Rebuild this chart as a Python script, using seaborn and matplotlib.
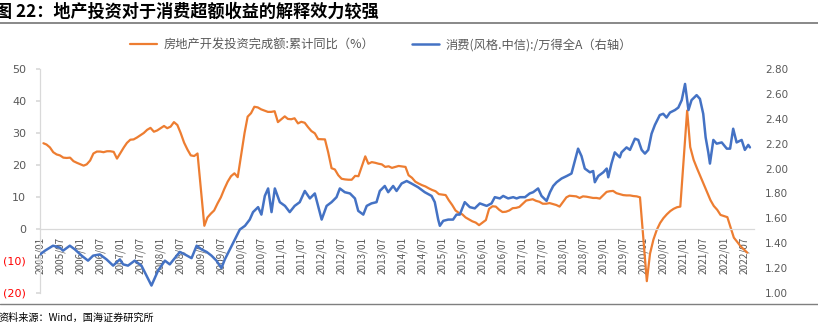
import matplotlib
matplotlib.use("Agg")
import matplotlib.pyplot as plt
from matplotlib.lines import Line2D
import seaborn as sns
import pandas as pd

sns.set_theme(style="white")
plt.rcParams['font.family'] = ['Noto Sans CJK SC', 'DejaVu Sans']
plt.rcParams['axes.unicode_minus'] = False

# ---------------- text ----------------
title = "图 22：地产投资对于消费超额收益的解释效力较强"
source = "资料来源：Wind，国海证券研究所"
label_orange = "房地产开发投资完成额:累计同比（%）"
label_blue = "消费(风格.中信):/万得全A（右轴）"

# ---------------- data ----------------
# Real-estate investment, cumulative YoY (%), Feb..Dec each year (Jan not published)
orange_years = list(range(2005, 2023))
orange_2005 = [26.8, 26.4, 25.5, 24.0, 23.3, 23.0, 22.3, 22.2, 22.3, 21.2, 20.7]
orange_2006 = [19.8, 20.2, 21.4, 23.6, 24.2, 24.2, 24.0, 24.3, 24.3, 24.1, 22.0]
orange_2007 = [25.5, 26.9, 27.9, 28.0, 28.6, 29.3, 30.0, 31.0, 31.6, 30.4, 30.8]
orange_2008 = [32.2, 31.5, 32.0, 33.4, 32.5, 30.0, 27.0, 24.8, 23.0, 22.8, 23.6]
orange_2009 = [1.0, 3.6, 4.8, 5.8, 8.0, 9.9, 12.5, 14.8, 16.5, 17.4, 16.2]
orange_2010 = [30.0, 35.1, 36.2, 38.2, 38.0, 37.4, 37.0, 36.6, 36.6, 36.8, 33.4]
orange_2011 = [35.2, 34.4, 34.3, 34.6, 33.0, 33.5, 33.2, 31.8, 30.6, 29.9, 28.1]
orange_2012 = [28.0, 24.0, 19.0, 18.6, 16.8, 15.7, 15.5, 15.4, 15.4, 16.6, 16.5]
orange_2013 = [22.7, 20.4, 20.9, 20.7, 20.4, 20.2, 19.4, 19.6, 19.1, 19.4, 19.7]
orange_2014 = [19.4, 16.8, 16.0, 14.8, 14.2, 13.7, 13.3, 12.7, 12.2, 11.8, 10.9]
orange_2015 = [10.6, 9.0, 7.5, 5.8, 5.0, 4.6, 3.6, 3.0, 2.4, 2.0, 1.2]
orange_2016 = [2.8, 6.3, 7.1, 7.0, 6.0, 5.3, 5.4, 5.8, 6.5, 6.6, 6.9]
orange_2017 = [8.9, 9.1, 9.3, 8.8, 8.5, 7.9, 7.9, 8.1, 7.8, 7.5, 7.0]
orange_2018 = [9.9, 10.4, 10.3, 10.2, 9.7, 10.2, 10.1, 9.9, 9.7, 9.7, 9.5]
orange_2019 = [11.6, 11.8, 11.9, 11.2, 10.9, 10.6, 10.5, 10.5, 10.3, 10.2, 9.9]
orange_2020 = [-16.3, -7.7, -3.3, -0.3, 1.9, 3.4, 4.6, 5.6, 6.3, 6.8, 7.0]
orange_2021 = [37.0, 25.6, 21.6, 19.0, 16.5, 14.0, 11.5, 9.0, 7.2, 6.0, 4.4]
orange_2022 = [3.7, 0.7, -2.7, -4.0, -5.4, -6.4, -7.4]
orange_by_year = [orange_2005, orange_2006, orange_2007, orange_2008, orange_2009,
                  orange_2010, orange_2011, orange_2012, orange_2013, orange_2014,
                  orange_2015, orange_2016, orange_2017, orange_2018, orange_2019,
                  orange_2020, orange_2021, orange_2022]

# Consumption style / Wind All A ratio (right axis)
blue_dates = [
    "2005-01-01", "2005-02-15", "2005-04-29", "2005-06-30", "2005-07-29", "2005-09-29", "2005-11-14",
    "2006-01-14", "2006-03-13", "2006-04-28", "2006-06-28", "2006-08-28", "2006-10-27", "2006-12-27",
    "2007-01-26", "2007-03-11", "2007-05-11", "2007-07-11", "2007-08-26", "2007-10-10", "2007-12-09",
    "2008-02-09", "2008-03-24", "2008-05-08", "2008-06-23", "2008-08-08", "2008-10-08", "2008-11-23",
    "2009-01-07", "2009-02-22", "2009-04-07", "2009-05-22", "2009-07-06", "2009-08-06", "2009-09-21",
    "2009-11-05", "2009-12-20",
    "2010-02-05", "2010-03-20", "2010-04-19", "2010-06-04", "2010-07-04", "2010-08-04", "2010-09-03",
    "2010-10-04", "2010-11-03", "2010-12-18",
    "2011-02-03", "2011-03-18", "2011-05-02", "2011-06-17", "2011-08-02", "2011-09-17", "2011-11-01",
    "2011-12-01",
    "2012-01-02", "2012-02-16", "2012-04-01", "2012-05-16", "2012-06-15", "2012-07-30", "2012-09-15",
    "2012-10-30", "2012-11-29",
    "2013-01-14", "2013-02-14", "2013-03-29", "2013-05-14", "2013-06-13", "2013-07-28", "2013-08-28",
    "2013-10-12", "2013-11-12", "2013-12-28",
    "2014-02-12", "2014-03-27", "2014-05-26", "2014-07-26", "2014-09-26", "2014-10-25", "2014-11-25",
    "2014-12-10",
    "2015-01-10", "2015-02-24", "2015-04-09", "2015-05-10", "2015-06-09", "2015-07-24", "2015-09-08",
    "2015-10-23", "2015-12-08",
    "2016-02-08", "2016-03-23", "2016-04-22", "2016-06-07", "2016-07-07", "2016-08-21", "2016-10-06",
    "2016-11-06", "2016-12-06",
    "2017-01-21", "2017-03-05", "2017-04-05", "2017-05-20", "2017-06-20", "2017-08-05", "2017-09-05",
    "2017-10-04", "2017-11-04", "2017-12-19",
    "2018-02-04", "2018-03-19", "2018-04-18", "2018-05-18", "2018-06-18", "2018-07-18", "2018-09-02",
    "2018-10-02", "2018-10-17", "2018-11-17",
    "2019-01-02", "2019-02-02", "2019-02-16", "2019-03-17", "2019-04-16", "2019-06-01", "2019-06-16",
    "2019-08-01", "2019-09-01", "2019-10-16", "2019-11-15", "2019-12-16",
    "2020-01-15", "2020-02-14", "2020-03-15", "2020-04-14", "2020-05-29", "2020-06-29", "2020-07-29",
    "2020-08-29", "2020-10-13", "2020-11-13", "2020-12-14",
    "2021-01-13", "2021-02-13", "2021-03-13", "2021-04-28", "2021-05-28", "2021-06-27", "2021-07-19",
    "2021-08-12", "2021-08-27", "2021-09-27", "2021-10-27", "2021-12-12",
    "2022-01-27", "2022-02-26", "2022-03-26", "2022-04-26", "2022-06-11", "2022-07-10", "2022-08-10",
    "2022-08-25",
]
blue_values = [
    1.31, 1.34, 1.38, 1.365, 1.34, 1.38, 1.35,
    1.30, 1.26, 1.30, 1.31, 1.27, 1.22, 1.27,
    1.23, 1.22, 1.26, 1.22, 1.14, 1.06, 1.18,
    1.26, 1.23, 1.28, 1.33, 1.31, 1.28, 1.38,
    1.35, 1.33, 1.30, 1.26, 1.20, 1.27, 1.35,
    1.43, 1.51,
    1.54, 1.59, 1.65, 1.69, 1.63, 1.78, 1.84,
    1.65, 1.84, 1.73,
    1.70, 1.65, 1.70, 1.73, 1.82, 1.76, 1.80,
    1.70,
    1.59, 1.70, 1.73, 1.77, 1.84, 1.81, 1.80,
    1.76, 1.66,
    1.63, 1.70, 1.72, 1.73, 1.82, 1.86, 1.81,
    1.86, 1.82, 1.88,
    1.90, 1.88, 1.85, 1.81, 1.78, 1.73, 1.59,
    1.54,
    1.58, 1.59, 1.59, 1.63, 1.63, 1.73, 1.69,
    1.68, 1.72,
    1.70, 1.72, 1.77, 1.76, 1.78, 1.76, 1.77,
    1.76, 1.77,
    1.77, 1.80, 1.81, 1.84, 1.78, 1.74, 1.81,
    1.86, 1.89, 1.92,
    1.94, 1.96, 2.06, 2.16, 2.10, 2.00, 1.97,
    1.98, 1.89, 1.94,
    1.97, 2.00, 1.93, 2.04, 2.13, 2.09, 2.13,
    2.17, 2.15, 2.24, 2.23, 2.15,
    2.12, 2.15, 2.28, 2.35, 2.43, 2.44, 2.41,
    2.45, 2.47, 2.49, 2.55,
    2.68, 2.47, 2.55, 2.59, 2.56, 2.44, 2.25,
    2.13, 2.04, 2.23, 2.20, 2.21,
    2.16, 2.16, 2.32, 2.21, 2.23, 2.15, 2.19,
    2.17,
]

left_ticks = [-20, -10, 0, 10, 20, 30, 40, 50]
left_ticklabels = ["(20)", "(10)", "0", "10", "20", "30", "40", "50"]
right_ticks = [1.0, 1.2, 1.4, 1.6, 1.8, 2.0, 2.2, 2.4, 2.6, 2.8]
right_ticklabels = ["1.00", "1.20", "1.40", "1.60", "1.80", "2.00", "2.20", "2.40", "2.60", "2.80"]
x_tick_dates = pd.date_range("2005-01-01", "2022-07-01", freq="6MS")
x_ticklabels = [d.strftime("%Y/%m") for d in x_tick_dates]

# ---------------- frames ----------------
orange_rows = []
for yr, vals in zip(orange_years, orange_by_year):
    for i, v in enumerate(vals):
        orange_rows.append((pd.Timestamp(year=yr, month=i + 2, day=1), v))
df_orange = pd.DataFrame(orange_rows, columns=["date", "value"])
df_blue = pd.DataFrame({"date": pd.to_datetime(blue_dates), "value": blue_values})

ORANGE = "#ED7D31"
BLUE = "#4472C4"
GRAY_TXT = "#595959"
AXIS_C = "#D9D9D9"

W, H = 818, 325
fig = plt.figure(figsize=(W / 100, H / 100), dpi=100)
ax = fig.add_axes([40 / W, (H - 293) / H, 714 / W, 224 / H])
ax2 = ax.twinx()

sns.lineplot(data=df_orange, x="date", y="value", ax=ax, color=ORANGE, linewidth=1.6,
             estimator=None, sort=False, legend=False)
sns.lineplot(data=df_blue, x="date", y="value", ax=ax2, color=BLUE, linewidth=1.8,
             estimator=None, sort=False, legend=False)

ax.set_xlim(pd.Timestamp("2005-01-01"), pd.Timestamp("2022-10-01"))
ax.set_ylim(-20, 50)
ax2.set_ylim(1.0, 2.8)
ax.set_xlabel("")
ax.set_ylabel("")
ax2.set_ylabel("")

ax.set_yticks(left_ticks)
ax.set_yticklabels(left_ticklabels, fontsize=8, family="DejaVu Sans")
for lab, v in zip(ax.get_yticklabels(), left_ticks):
    lab.set_color("#FF0000" if v < 0 else GRAY_TXT)
ax.tick_params(axis="y", which="both", length=3, color=AXIS_C, direction="out", pad=7)

ax2.set_yticks(right_ticks)
ax2.set_yticklabels(right_ticklabels, fontsize=7.5, family="DejaVu Sans", color=GRAY_TXT)
ax2.tick_params(axis="y", length=0, pad=8)

ax.set_xticks(x_tick_dates)
ax.set_xticklabels(x_ticklabels)
ax.tick_params(axis="x", length=3, color=AXIS_C, direction="out", pad=2.5,
               labelrotation=90, labelsize=7.2, labelcolor=GRAY_TXT)
for lab in ax.get_xticklabels():
    lab.set_rotation(90)
    lab.set_fontfamily("Liberation Sans")
    lab.set_fontsize(7.2)
    lab.set_va("top")
    lab.set_ha("center")

for s in ["top", "right"]:
    ax.spines[s].set_visible(False)
for s in ax2.spines.values():
    s.set_visible(False)
ax.spines["bottom"].set_position(("data", 0))
ax.spines["bottom"].set_color(AXIS_C)
ax.spines["left"].set_color(AXIS_C)
ax.spines["bottom"].set_linewidth(0.9)
ax.spines["left"].set_linewidth(0.9)
ax.grid(False)
ax2.grid(False)

handles = [Line2D([], [], color=ORANGE, lw=1.6), Line2D([], [], color=BLUE, lw=1.8)]
fig.legend(handles, [label_orange, label_blue], loc="center",
           bbox_to_anchor=(381 / W, 1 - 45 / H), ncol=2, frameon=False, fontsize=8.8,
           handlelength=2.2, handletextpad=0.5, columnspacing=3.1, labelcolor=GRAY_TXT)

fig.text(-5 / W, 1 - 12 / H, title, fontsize=12.3, fontweight="bold", va="center", ha="left",
         color="black")
fig.add_artist(Line2D([0, 1], [1 - 23 / H, 1 - 23 / H], color="#7F7F7F", lw=1.3,
                      transform=fig.transFigure))
fig.add_artist(Line2D([0, 1], [1 - 304 / H, 1 - 304 / H], color="#7F7F7F", lw=1.0,
                      transform=fig.transFigure))
fig.text(-2 / W, 1 - 318 / H, source, fontsize=7.3, va="center", ha="left", color="black")

fig.savefig("out.png", dpi=100)
